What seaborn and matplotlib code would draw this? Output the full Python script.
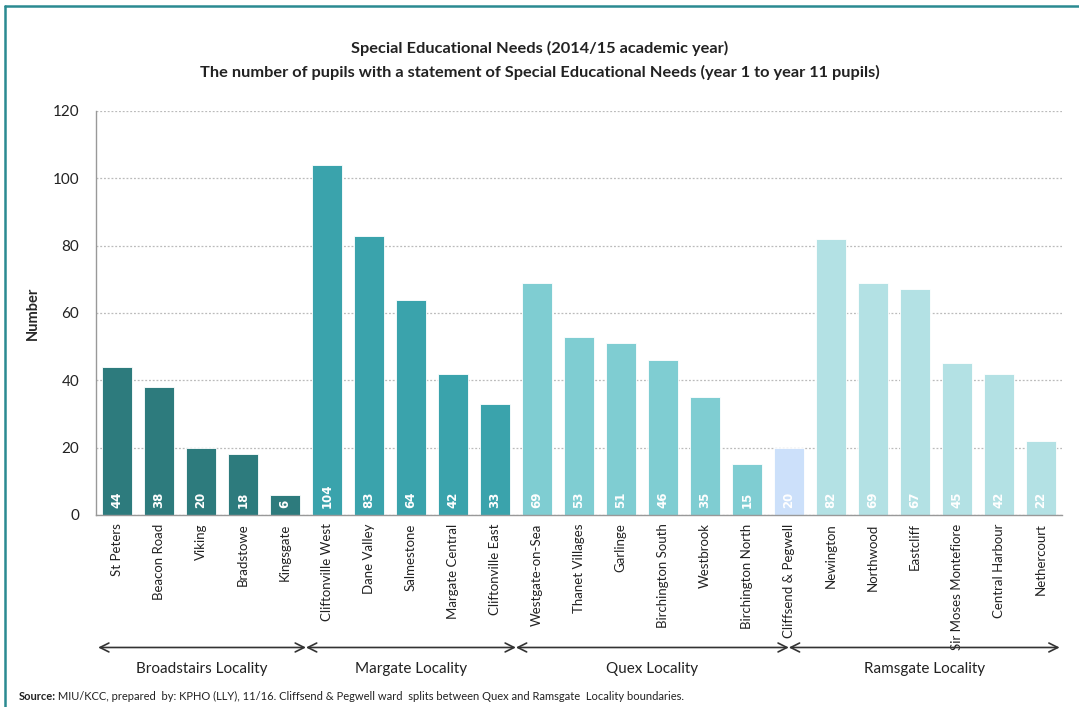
import numpy as np
import pandas as pd
import matplotlib
matplotlib.use("Agg")
import matplotlib.pyplot as plt
import matplotlib.transforms as mtransforms
from matplotlib.lines import Line2D
import seaborn as sns

# Ward names and counts, grouped by locality
wards = ["St Peters", "Beacon Road", "Viking", "Bradstowe", "Kingsgate",
         "Cliftonville West", "Dane Valley", "Salmestone", "Margate Central", "Cliftonville East",
         "Westgate-on-Sea", "Thanet Villages", "Garlinge", "Birchington South", "Westbrook",
         "Birchington North", "Cliffsend & Pegwell",
         "Newington", "Northwood", "Eastcliff", "Sir Moses Montefiore", "Central Harbour",
         "Nethercourt"]
pupils = [44, 38, 20, 18, 6,
          104, 83, 64, 42, 33,
          69, 53, 51, 46, 35, 15, 20,
          82, 69, 67, 45, 42, 22]
group = (["Broadstairs"] * 5 + ["Margate"] * 5 + ["Quex"] * 6 + ["Split"]
         + ["Ramsgate"] * 6)
group_colors = {"Broadstairs": "#2D7B7D", "Margate": "#3AA3AC", "Quex": "#7FCDD2",
                "Split": "#CCE0FA", "Ramsgate": "#B3E1E4"}

localities = ["Broadstairs Locality", "Margate Locality", "Quex Locality", "Ramsgate Locality"]
# locality boundaries on the category axis (Cliffsend & Pegwell is split in half)
bounds = [-0.45, 4.5, 9.5, 16.0, 22.45]

df = pd.DataFrame({"ward": wards, "pupils": pupils, "group": group})

sns.set_style("white")
plt.rcParams["font.family"] = ["Lato", "DejaVu Sans"]

fig = plt.figure(figsize=(10.79, 7.07), dpi=100)
ax = fig.add_axes([0.089, 0.2716, 0.895, 0.5714])

sns.barplot(data=df, x="ward", y="pupils", hue="group", palette=group_colors,
            dodge=False, width=0.72, legend=False, edgecolor="white", linewidth=0.6,
            saturation=1, ax=ax, zorder=2)

ax.set_ylim(0, 120)
ax.set_xlim(-0.5, len(wards) - 0.5)
ax.set_yticks(range(0, 121, 20))
ax.yaxis.grid(True, linestyle=(0, (1.5, 1.5)), color="#BBBBBB", linewidth=0.9, zorder=0)
ax.set_axisbelow(True)
for s in ["top", "right"]:
    ax.spines[s].set_visible(False)
for s in ["left", "bottom"]:
    ax.spines[s].set_color("#999999")
    ax.spines[s].set_linewidth(1.0)

ax.set_xticks(np.arange(len(wards)))
ax.set_xticklabels(wards, rotation=90, fontsize=9.5, color="#222222")
ax.tick_params(axis="x", length=0, pad=6)
ax.set_xticks(np.arange(-0.5, len(wards)), minor=True)
ax.tick_params(axis="x", which="minor", length=5, color="#999999", direction="out")
ax.tick_params(axis="y", length=4, color="#999999", direction="out", labelsize=11,
               labelcolor="#222222", pad=8)
ax.set_xlabel("")
ax.set_ylabel("Number", fontsize=10.5, fontweight="bold")
ax.yaxis.set_label_coords(-0.058, 0.5)

# value labels inside bars
for i, v in enumerate(pupils):
    ax.text(i, 2.2, str(v), rotation=90, ha="center", va="bottom", color="white",
            fontsize=8.5, fontweight="bold", family="DejaVu Sans", zorder=3)

# locality arrows below the axis
trans = mtransforms.blended_transform_factory(ax.transData, ax.transAxes)
for k, name in enumerate(localities):
    a, b = bounds[k], bounds[k + 1]
    ax.annotate("", xy=(a, -0.328), xytext=(b, -0.328), xycoords=trans, textcoords=trans,
                arrowprops=dict(arrowstyle="<->", color="#333333", lw=1.2,
                                shrinkA=0, shrinkB=0, mutation_scale=16),
                annotation_clip=False)
    ax.text((a + b) / 2, -0.382, name, transform=trans, ha="center", va="center",
            fontsize=11, color="#222222")

fig.text(0.5, 0.932, "Special Educational Needs (2014/15 academic year)", ha="center",
         va="center", fontsize=11.8, fontweight="bold", color="#222222")
fig.text(0.5, 0.898, "The number of pupils with a statement of Special Educational Needs "
         "(year 1 to year 11 pupils)", ha="center", va="center", fontsize=11.8,
         fontweight="bold", color="#222222")

src = fig.text(0.017, 0.015, "Source:", ha="left", va="center", fontsize=8,
               fontweight="bold", color="#222222")
ax.annotate(" MIU/KCC, prepared  by: KPHO (LLY), 11/16. Cliffsend & Pegwell ward  "
            "splits between Quex and Ramsgate  Locality boundaries.",
            xy=(1, 0.5), xycoords=src, ha="left", va="center", fontsize=8,
            color="#222222", annotation_clip=False)

# teal frame on the top and left edges
fig.add_artist(Line2D([0.0046, 0.0046], [0, 0.992], transform=fig.transFigure,
                      color="#2B8A91", lw=1.8))
fig.add_artist(Line2D([0.0046, 1.0], [0.992, 0.992], transform=fig.transFigure,
                      color="#2B8A91", lw=1.8))

fig.savefig("out.png", dpi=100)
